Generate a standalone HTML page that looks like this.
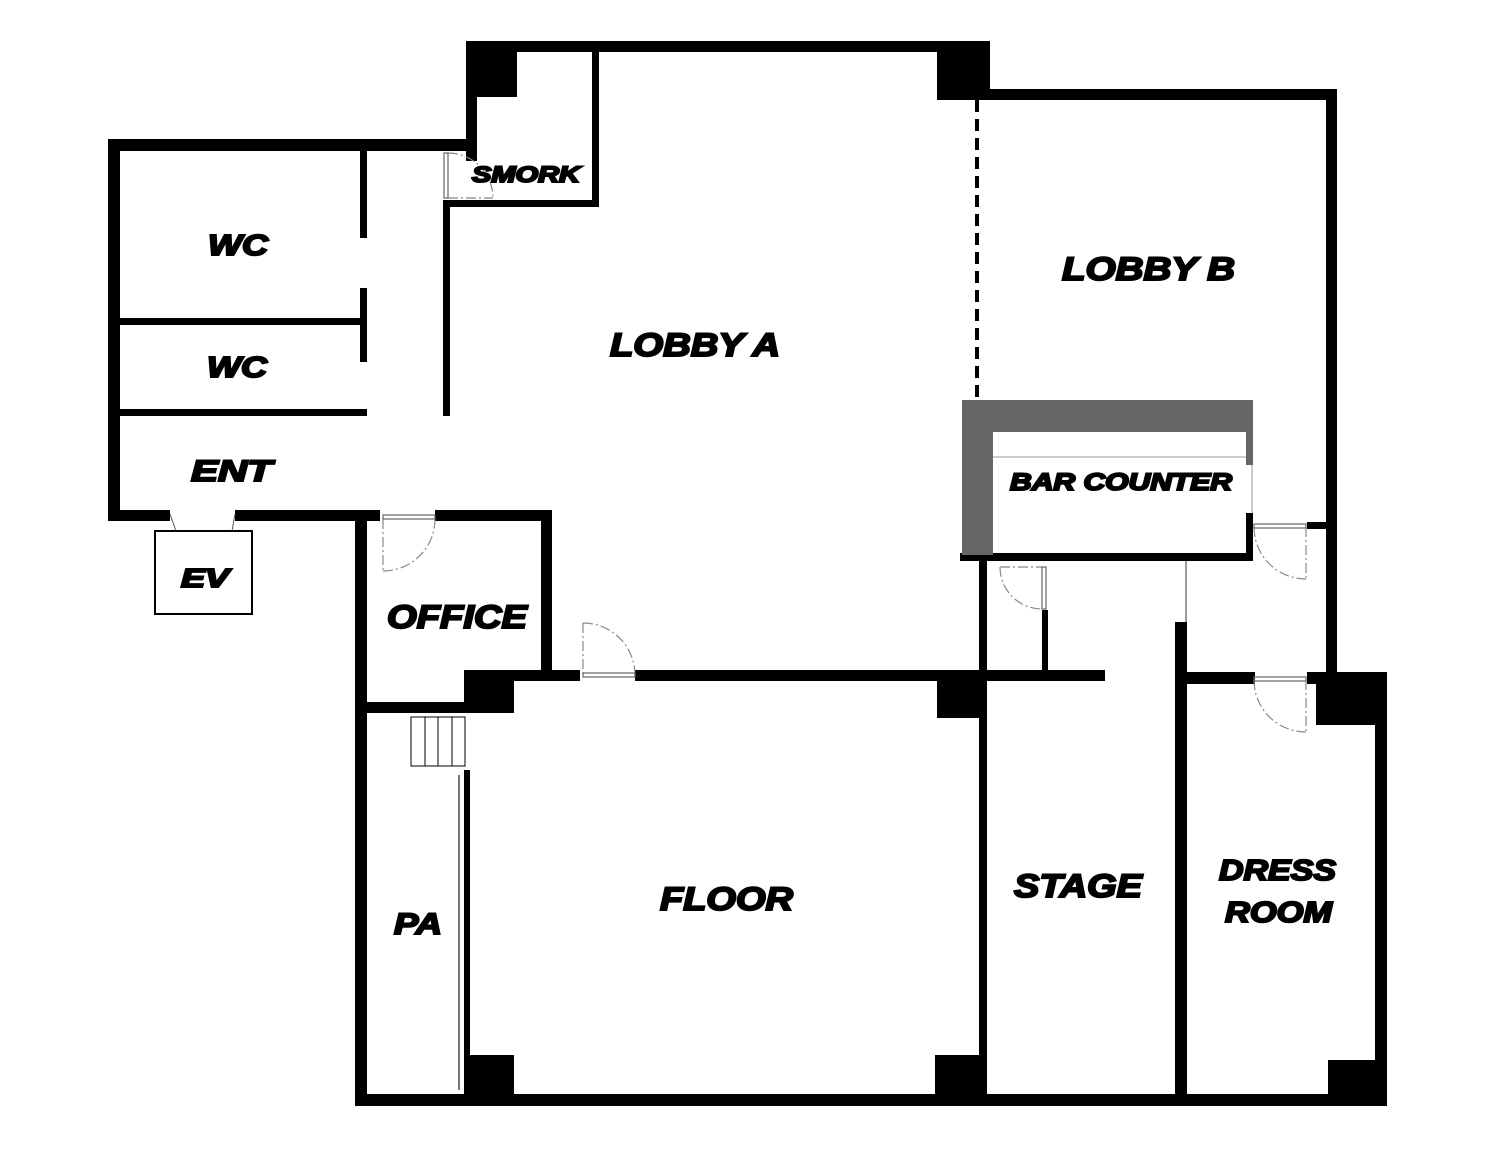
<!DOCTYPE html>
<html><head><meta charset="utf-8"><style>
html,body{margin:0;padding:0;background:#fff;width:1500px;height:1160px;overflow:hidden}
svg text{font-family:"Liberation Sans",Arial,sans-serif;font-weight:bold;font-style:italic;fill:#000;stroke:#000;stroke-width:2}
</style></head><body>
<svg width="1500" height="1160" viewBox="0 0 1500 1160" xmlns="http://www.w3.org/2000/svg">
<g fill="#000">
<rect x="466" y="41" width="524" height="11"/>
<rect x="466" y="41" width="11" height="120"/>
<rect x="466" y="41" width="51" height="56"/>
<rect x="937" y="41" width="53" height="59"/>
<rect x="980" y="89" width="357" height="11"/>
<rect x="1326" y="89" width="11" height="591"/>
<rect x="108" y="139" width="369" height="12"/>
<rect x="108" y="139" width="12" height="382"/>
<rect x="108" y="510" width="62" height="11"/>
<rect x="235" y="510" width="145" height="11"/>
<rect x="435" y="510" width="117" height="11"/>
<rect x="360" y="150" width="7" height="88"/>
<rect x="360" y="288" width="7" height="74"/>
<rect x="120" y="318" width="242" height="7"/>
<rect x="120" y="409" width="247" height="7"/>
<rect x="592" y="52" width="7" height="155"/>
<rect x="443" y="200" width="156" height="7"/>
<rect x="443" y="200" width="7" height="216"/>
<rect x="355" y="510" width="12" height="596"/>
<rect x="541" y="510" width="11" height="160"/>
<rect x="355" y="702" width="158" height="11"/>
<rect x="464" y="670" width="50" height="43"/>
<rect x="513" y="670" width="67" height="11"/>
<rect x="635" y="670" width="470" height="11"/>
<rect x="464" y="770" width="6" height="330"/>
<rect x="464" y="1055" width="50" height="50"/>
<rect x="937" y="680" width="48" height="38"/>
<rect x="935" y="1055" width="50" height="50"/>
<rect x="355" y="1094" width="1032" height="12"/>
<rect x="979" y="560" width="8" height="545"/>
<rect x="1042" y="610" width="6" height="62"/>
<rect x="1175" y="622" width="12" height="483"/>
<rect x="1187" y="672" width="68" height="12"/>
<rect x="1307" y="672" width="80" height="12"/>
<rect x="1316" y="672" width="71" height="53"/>
<rect x="1375" y="672" width="12" height="434"/>
<rect x="1328" y="1060" width="50" height="36"/>
<rect x="1307" y="522" width="23" height="7"/>
<rect x="960" y="553" width="293" height="8"/>
<rect x="1246" y="513" width="7" height="48"/>
</g>
<rect x="962" y="400" width="291" height="32" fill="#666"/>
<rect x="962" y="400" width="31" height="155" fill="#666"/>
<rect x="1246" y="432" width="7" height="33" fill="#666"/>
<line x1="993" y1="457" x2="1246" y2="457" stroke="#999" stroke-width="1"/>
<line x1="1252" y1="465" x2="1252" y2="513" stroke="#999" stroke-width="1"/>
<line x1="977" y1="100" x2="977" y2="400" stroke="#000" stroke-width="4" stroke-dasharray="12,7"/>
<line x1="1186" y1="561" x2="1186" y2="622" stroke="#777" stroke-width="1.5"/>
<line x1="459" y1="775" x2="459" y2="1090" stroke="#777" stroke-width="2"/>
<rect x="155" y="531" width="97" height="83" fill="none" stroke="#000" stroke-width="2"/>
<line x1="170" y1="514" x2="176" y2="531" stroke="#555"/><line x1="235" y1="514" x2="232" y2="531" stroke="#555"/>
<g fill="none" stroke="#000" stroke-width="1"><rect x="411" y="717" width="54" height="49"/><line x1="425" y1="717" x2="425" y2="766"/><line x1="438" y1="717" x2="438" y2="766"/><line x1="452" y1="717" x2="452" y2="766"/></g>
<g fill="none" stroke="#888" stroke-width="1.2" stroke-dasharray="10,3,2,3">
<path d="M383 571 A52 52 0 0 0 435 519"/>
<path d="M583 623 A52 52 0 0 1 635 675"/>
<path d="M448 153 A45 45 0 0 1 493 198"/>
<path d="M1000 567 A42 42 0 0 0 1042 609"/>
<path d="M1254 527 A52 52 0 0 0 1306 579"/>
<path d="M1254 680 A52 52 0 0 0 1306 732"/>
<line x1="383" y1="519" x2="383" y2="571"/><line x1="583" y1="623" x2="583" y2="675"/>
<line x1="448" y1="198" x2="493" y2="198"/><line x1="1000" y1="567" x2="1042" y2="567"/>
<line x1="1306" y1="527" x2="1306" y2="579"/><line x1="1306" y1="680" x2="1306" y2="732"/>
</g>
<g fill="none" stroke="#666" stroke-width="1.2">
<rect x="383" y="515" width="52" height="4"/><rect x="583" y="673" width="52" height="4"/>
<rect x="444" y="153" width="4" height="45"/><rect x="1042" y="567" width="4" height="42"/>
<rect x="1254" y="524" width="52" height="4"/><rect x="1254" y="677" width="52" height="4"/>
</g>
<g lengthAdjust="spacingAndGlyphs">
<text x="208" y="255" font-size="29" textLength="60" lengthAdjust="spacingAndGlyphs">WC</text>
<text x="207" y="377" font-size="29" textLength="60" lengthAdjust="spacingAndGlyphs">WC</text>
<text x="191" y="481" font-size="30" textLength="81" lengthAdjust="spacingAndGlyphs">ENT</text>
<text x="181" y="587" font-size="26" textLength="48" lengthAdjust="spacingAndGlyphs">EV</text>
<text x="472" y="182" font-size="22" textLength="108" lengthAdjust="spacingAndGlyphs">SMORK</text>
<text x="610" y="356" font-size="32" textLength="170" lengthAdjust="spacingAndGlyphs">LOBBY A</text>
<text x="1062" y="280" font-size="32" textLength="173" lengthAdjust="spacingAndGlyphs">LOBBY B</text>
<text x="1010" y="490" font-size="24" textLength="222" lengthAdjust="spacingAndGlyphs">BAR COUNTER</text>
<text x="387" y="628" font-size="32" textLength="140" lengthAdjust="spacingAndGlyphs">OFFICE</text>
<text x="394" y="934" font-size="30" textLength="48" lengthAdjust="spacingAndGlyphs">PA</text>
<text x="660" y="910" font-size="32" textLength="133" lengthAdjust="spacingAndGlyphs">FLOOR</text>
<text x="1014" y="897" font-size="32" textLength="128" lengthAdjust="spacingAndGlyphs">STAGE</text>
<text x="1219" y="880" font-size="29" textLength="117" lengthAdjust="spacingAndGlyphs">DRESS</text>
<text x="1225" y="922" font-size="29" textLength="107" lengthAdjust="spacingAndGlyphs">ROOM</text>
</g>
</svg>
</body></html>
